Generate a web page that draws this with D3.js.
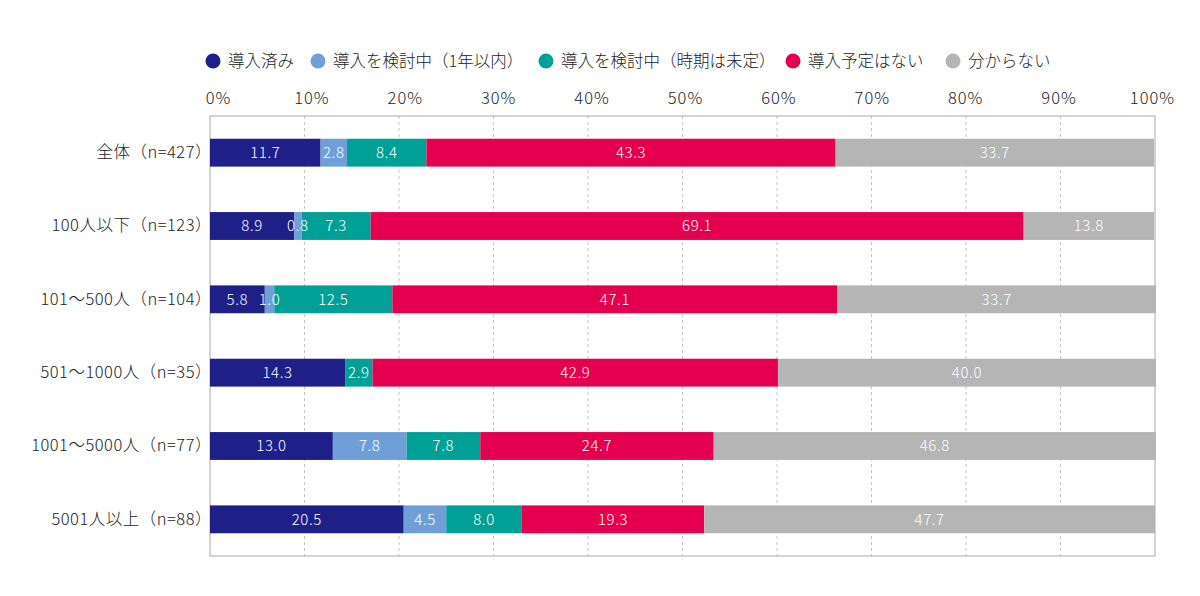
<!DOCTYPE html>
<html>
<head>
<meta charset="utf-8">
<script src="https://cdn.jsdelivr.net/npm/d3@7"></script>
<style>
  body { margin: 0; background: #fff; }
  text { font-family: "Noto Sans CJK JP", "Noto Sans", sans-serif; }
</style>
</head>
<body>
<div id="container"></div>
<script>
const width = 1200;
const height = 596;
const margin = { t: 116, r: 45, b: 40, l: 210 };

const categories = [
  "全体（n=427）",
  "100人以下（n=123）",
  "101～500人（n=104）",
  "501～1000人（n=35）",
  "1001～5000人（n=77）",
  "5001人以上（n=88）"
];
const seriesNames = [
  "導入済み",
  "導入を検討中（1年以内）",
  "導入を検討中（時期は未定）",
  "導入予定はない",
  "分からない"
];
const colors = ["#1f1f88", "#6f9fd6", "#00a096", "#e4004f", "#b5b5b5"];

const introduced = [11.7, 8.9, 5.8, 14.3, 13.0, 20.5];
const within1y = [2.8, 0.8, 1.0, 0, 7.8, 4.5];
const undecided = [8.4, 7.3, 12.5, 2.9, 7.8, 8.0];
const noPlan = [43.3, 69.1, 47.1, 42.9, 24.7, 19.3];
const unknown = [33.7, 13.8, 33.7, 40.0, 46.8, 47.7];
const tickValues = [0, 10, 20, 30, 40, 50, 60, 70, 80, 90, 100];

const series = [introduced, within1y, undecided, noPlan, unknown];
const rows = categories.map((c, i) => {
  const r = { cat: c };
  seriesNames.forEach((s, j) => (r[s] = series[j][i]));
  return r;
});
const stacked = d3.stack().keys(seriesNames)(rows);

const x = d3.scaleLinear().domain([0, 100]).range([margin.l, width - margin.r]);
// tick labels sit slightly inside the gridlines at both ends
const xLabel = d3.scaleLinear().domain([0, 100]).range([margin.l + 8, width - margin.r - 3]);
const y = d3
  .scaleBand()
  .domain(categories)
  .range([margin.t, height - margin.b])
  .paddingInner(0.62)
  .paddingOuter(0.31);

const svg = d3
  .select("#container")
  .append("svg")
  .attr("width", width)
  .attr("height", height);

// dashed grid
svg
  .append("g")
  .selectAll("line")
  .data(tickValues.slice(1, -1))
  .join("line")
  .attr("x1", (d) => x(d))
  .attr("x2", (d) => x(d))
  .attr("y1", margin.t)
  .attr("y2", height - margin.b)
  .attr("stroke", "#c4c4c4")
  .attr("stroke-dasharray", "3,3");

// frame
svg
  .append("rect")
  .attr("x", x(0))
  .attr("y", margin.t)
  .attr("width", x(100) - x(0))
  .attr("height", height - margin.b - margin.t)
  .attr("fill", "none")
  .attr("stroke", "#a8a8a8");

// bars
const layer = svg
  .append("g")
  .selectAll("g")
  .data(stacked)
  .join("g")
  .attr("fill", (d, i) => colors[i]);

layer
  .selectAll("rect")
  .data((d) => d)
  .join("rect")
  .attr("x", (d) => x(d[0]))
  .attr("y", (d) => y(d.data.cat))
  .attr("width", (d) => x(d[1]) - x(d[0]))
  .attr("height", y.bandwidth());

// value labels
svg
  .append("g")
  .selectAll("g")
  .data(stacked)
  .join("g")
  .selectAll("text")
  .data((d) => d.filter((p) => p[1] - p[0] > 0))
  .join("text")
  .attr("x", (d) => x((d[0] + d[1]) / 2))
  .attr("y", (d) => y(d.data.cat) + y.bandwidth() / 2)
  .attr("dy", "0.36em")
  .attr("text-anchor", "middle")
  .attr("fill", "#fff")
  .attr("font-size", 15)
  .attr("letter-spacing", 0.6)
  .attr("font-weight", 300)
  .text((d) => (d[1] - d[0]).toFixed(1));

// top axis
const xAxis = svg
  .append("g")
  .attr("transform", `translate(0,${margin.t - 9})`)
  .call(d3.axisTop(xLabel).tickValues(tickValues).tickSize(0).tickFormat((d) => d + "%"));
xAxis.select(".domain").remove();
xAxis
  .selectAll("text")
  .attr("font-size", 16.5)
  .attr("letter-spacing", 1)
  .attr("font-weight", 300)
  .attr("fill", "#222")
  .style("font-family", '"Noto Sans CJK JP", sans-serif');

// category axis
const yAxis = svg
  .append("g")
  .attr("transform", `translate(${margin.l + 2},0)`)
  .call(d3.axisLeft(y).tickSize(0).tickPadding(0));
yAxis.select(".domain").remove();
yAxis
  .selectAll("text")
  .attr("font-size", 16.5)
  .attr("letter-spacing", 0.5)
  .attr("font-weight", 300)
  .attr("fill", "#222")
  .style("font-family", '"Noto Sans CJK JP", sans-serif');

// legend
const legendX = [213, 318, 546, 793, 953];
const legend = svg
  .append("g")
  .selectAll("g")
  .data(seriesNames)
  .join("g")
  .attr("transform", (d, i) => `translate(${legendX[i]},61)`);
legend
  .append("circle")
  .attr("r", 7.5)
  .attr("fill", (d, i) => colors[i]);
legend
  .append("text")
  .attr("x", 15)
  .attr("dy", "0.35em")
  .attr("font-size", 16.5)
  .attr("font-weight", 300)
  .attr("fill", "#222")
  .text((d) => d);
</script>
</body>
</html>
